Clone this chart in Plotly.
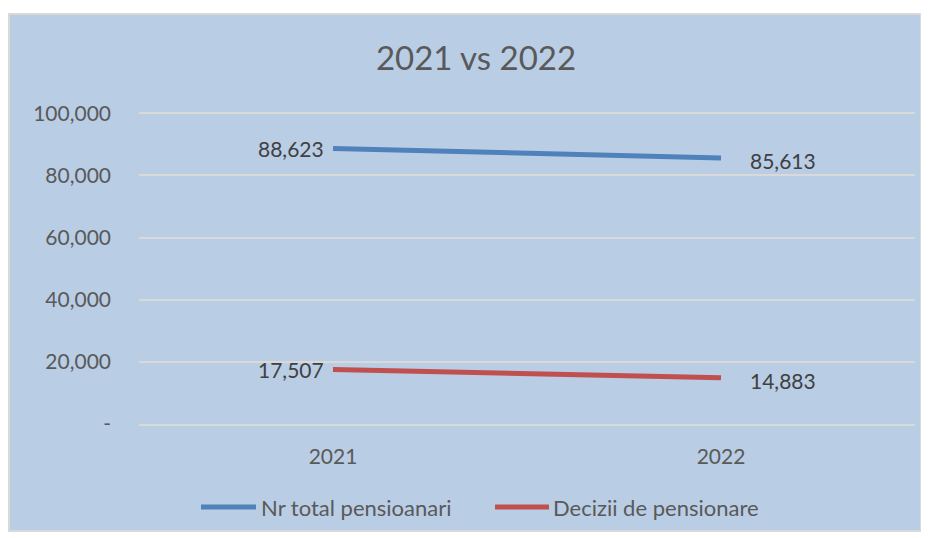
import plotly.graph_objects as go

# data
years = ["2021", "2022"]
series_names = ["Nr total pensioanari", "Decizii de pensionare"]
total_pensioners = [88623, 85613]
retirement_decisions = [17507, 14883]
y_ticks = [0, 20000, 40000, 60000, 80000, 100000]
y_tick_text = ["-", "20,000", "40,000", "60,000", "80,000", "100,000"]

colors = ["#4F81BD", "#C0504D"]
FONT = "Lato, Carlito, 'Open Sans', sans-serif"

# page puts the figure 8px in from the top-left corner
OFF = 8
W, H = 929, 538
# plot area as seen on screen: x 139..915, y 112..424
L, R, T, B = 139 - OFF, W - 915 + OFF, 112 - OFF, H - 424 + OFF
pw, ph = W - L - R, H - T - B
Y_MAX = 100400  # a hair above 100,000 so its gridline is drawn


def px_x(x):
    return (x - OFF - L) / pw


def px_y(y):
    return (H - B - (y - OFF)) / ph


fig = go.Figure()

for name, vals, col in zip(series_names, [total_pensioners, retirement_decisions], colors):
    fig.add_trace(go.Scatter(
        x=years, y=vals, name=name, mode="lines",
        line=dict(color=col, width=5),
        showlegend=False, cliponaxis=False,
    ))
    # data labels: left of first point, right of second (x = category index)
    for i, v in enumerate(vals):
        fig.add_annotation(
            x=i, y=v, text=f"{v:,}", showarrow=False,
            xanchor="right" if i == 0 else "left", yanchor="middle",
            xshift=-7 if i == 0 else 27, yshift=0 if i == 0 else -3,
            font=dict(family=FONT, size=21, color="#404040"),
        )

# chart area frame
fig.add_shape(type="rect", xref="paper", yref="paper", layer="below",
              x0=px_x(9), x1=px_x(921), y0=px_y(531), y1=px_y(14),
              fillcolor="#B9CDE5", line=dict(color="#D9D9D9", width=2))

# legend drawn by hand (Excel style long line keys)
legend_pos = [(201, 256, 259), (495, 549, 551)]
for (x0, x1, xt), name, col in zip(legend_pos, series_names, colors):
    fig.add_shape(type="line", xref="paper", yref="paper",
                  x0=px_x(x0), x1=px_x(x1), y0=px_y(507), y1=px_y(507),
                  line=dict(color=col, width=5))
    fig.add_annotation(xref="paper", yref="paper", x=px_x(xt), y=px_y(507),
                       text=name, showarrow=False, xanchor="left", yanchor="middle",
                       font=dict(family=FONT, size=22, color="#595959"))

fig.update_layout(
    width=W, height=H,
    margin=dict(l=L, r=R, t=T, b=B),
    paper_bgcolor="white",
    plot_bgcolor="rgba(0,0,0,0)",
    title=dict(text="2021 vs 2022", x=(476 - OFF) / W, xanchor="center",
               y=1 - (58 - OFF) / H, yanchor="middle", yref="container",
               font=dict(family=FONT, size=33, color="#595959")),
    font=dict(family=FONT, size=21, color="#595959"),
)
fig.update_xaxes(type="category", showgrid=False, showline=True, linecolor="#D9D9D9",
                 linewidth=1.5, ticks="", ticklabelstandoff=13, range=[-0.5, 1.5],
                 tickfont=dict(size=21, color="#595959"))
fig.update_yaxes(range=[0, Y_MAX], tickvals=y_ticks, ticktext=y_tick_text,
                 showgrid=True, gridcolor="#D9D9D9", gridwidth=1.5, zeroline=False,
                 ticks="", ticklabelstandoff=27,
                 tickfont=dict(size=21, color="#595959"))

fig.write_html("out.html")
